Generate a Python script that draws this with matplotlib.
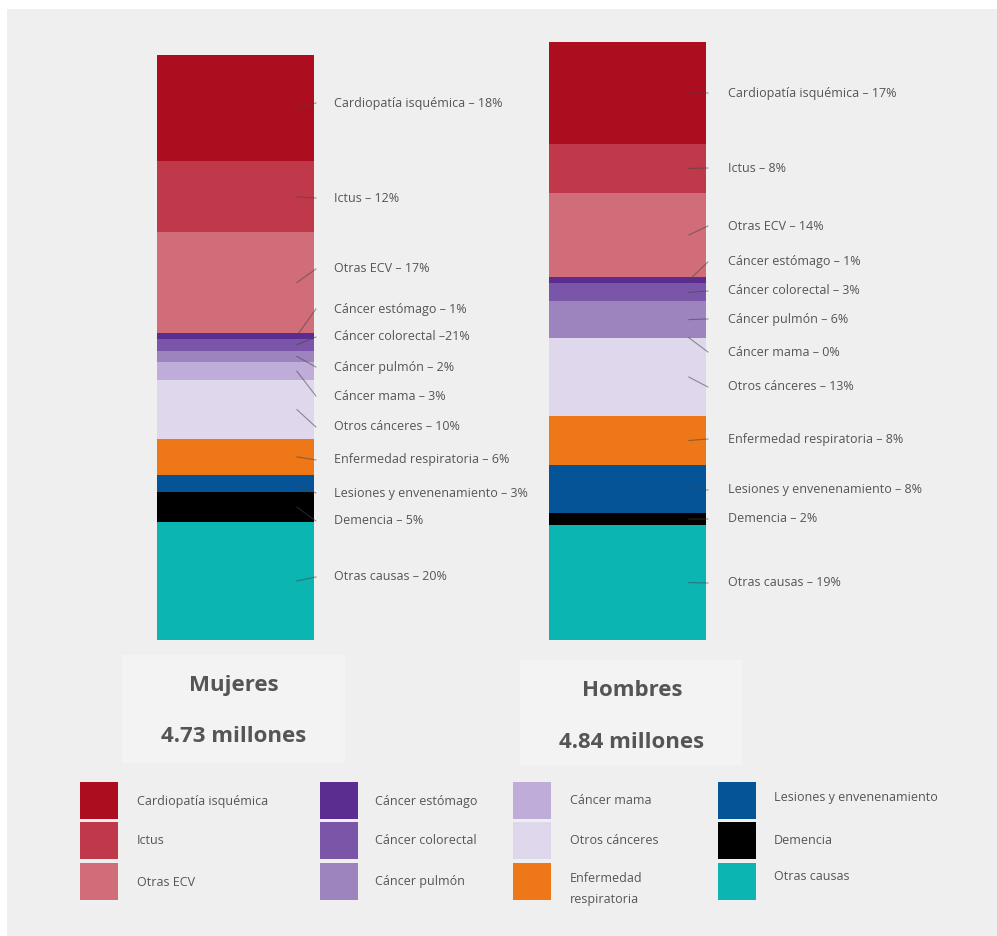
import matplotlib.pyplot as plt
from matplotlib.patches import Rectangle

plt.rcParams['font.family'] = ['Open Sans', 'DejaVu Sans']

# causes of death, share of all deaths (%) for each sex
causes = ["Cardiopatía isquémica", "Ictus", "Otras ECV", "Cáncer estómago",
          "Cáncer colorectal", "Cáncer pulmón", "Cáncer mama", "Otros cánceres",
          "Enfermedad respiratoria", "Lesiones y envenenamiento", "Demencia",
          "Otras causas"]
colors = ["#ad0e1f", "#c0394a", "#d06d78", "#5b2d91", "#7b55a8", "#9d84bf",
          "#c0acd8", "#dfd8ec", "#ee7818", "#045497", "#000000", "#0bb5b1"]

mujeres = [18, 12, 17, 1, 2, 2, 3, 10, 6, 3, 5, 20]
hombres = [17, 8, 14, 1, 3, 6, 0, 13, 8, 8, 2, 19]
total_mujeres = 4.73   # millones de muertes
total_hombres = 4.84

labels_mujeres = ["Cardiopatía isquémica – 18%", "Ictus – 12%", "Otras ECV – 17%",
                  "Cáncer estómago – 1%", "Cáncer colorectal –21%",
                  "Cáncer pulmón – 2%", "Cáncer mama – 3%", "Otros cánceres – 10%",
                  "Enfermedad respiratoria – 6%", "Lesiones y envenenamiento – 3%",
                  "Demencia – 5%", "Otras causas – 20%"]
labels_hombres = ["Cardiopatía isquémica – 17%", "Ictus – 8%", "Otras ECV – 14%",
                  "Cáncer estómago – 1%", "Cáncer colorectal – 3%",
                  "Cáncer pulmón – 6%", "Cáncer mama – 0%", "Otros cánceres – 13%",
                  "Enfermedad respiratoria – 8%", "Lesiones y envenenamiento – 8%",
                  "Demencia – 2%", "Otras causas – 19%"]

# label placement (pixels from top) so the small segments don't collide
label_y_muj = [103, 198, 269, 309, 337, 367, 396, 427, 460, 493, 521, 577]
label_y_hom = [93, 168, 226, 262, 291, 319, 352, 387, 439, 490, 519, 583]

W, H = 997, 936
fig = plt.figure(figsize=(W / 100, H / 100), dpi=100)
fig.patch.set_facecolor("white")
fig.patches.append(Rectangle((7 / W, 0), 1, 1 - 9 / H, transform=fig.transFigure,
                             facecolor="#efefef", edgecolor="none", zorder=0))

# bars: y in millions of deaths, bottom at 640 px from top
px_per_million = 124.9
ax = fig.add_axes([0.3 / W, 296 / H, 980 / W, 4.8 * px_per_million / H])
ax.set_xlim(-0.6, 1.9)
ax.set_ylim(0, 4.8)
ax.axis("off")
ax.set_zorder(1)

ov = fig.add_axes([0, 0, 1, 1])
ov.set_xlim(0, W)
ov.set_ylim(H, 0)
ov.axis("off")
ov.patch.set_alpha(0)
ov.set_zorder(2)

# slightly lighter boxes behind the totals
for x0, y0, w, h in [(122, 655, 223, 108), (520, 660, 222, 105)]:
    ov.add_patch(Rectangle((x0, y0), w, h, facecolor="#f3f3f3", edgecolor="none"))

fig.canvas.draw()


def to_px(x, y):
    dx, dy = ax.transData.transform((x, y))
    return dx, H - dy


def draw_bar(xpos, shares, total, labels, label_y, text_x):
    # stack from the top down: first cause sits on top
    top = sum(shares) / 100 * total
    for share, col, lab, ly in zip(shares, colors, labels, label_y):
        h = share / 100 * total
        bottom = top - h
        ax.bar(xpos, h, bottom=bottom, width=0.4, color=col, edgecolor="none")
        sx, sy = to_px(xpos + 0.2, bottom + h / 2)
        ov.plot([sx - 17, sx + 2], [sy, ly], color="#444444", lw=0.8, alpha=0.55)
        ov.text(text_x, ly, lab, fontsize=9, color="#555555", va="center", ha="left")
        top = bottom


draw_bar(0, mujeres, total_mujeres, labels_mujeres, label_y_muj, 334)
draw_bar(1, hombres, total_hombres, labels_hombres, label_y_hom, 728)

title_kw = dict(fontsize=16, fontweight="bold", color="#555555", ha="center", va="center")
ov.text(234, 686, "Mujeres", **title_kw)
ov.text(234, 737, f"{total_mujeres:.2f} millones", **title_kw)
ov.text(632, 690, "Hombres", **title_kw)
ov.text(632, 743, f"{total_hombres:.2f} millones", **title_kw)

# legend grid, 4 columns x 3 rows
legend_cols = [(80, 137), (320, 375), (513, 570), (718, 774)]
legend_rows = [782, 822, 863]
legend_names = list(causes)
legend_names[8] = "Enfermedad\nrespiratoria"
for i, (name, col) in enumerate(zip(legend_names, colors)):
    c, r = divmod(i, 3)
    sx, tx = legend_cols[c]
    sy = legend_rows[r]
    ov.add_patch(Rectangle((sx, sy), 38, 37, facecolor=col, edgecolor="none"))
    ty = sy + 19
    if i == 8:
        ty = sy + 26
    if i == 11:
        ty = sy + 14
    if i == 9:
        ty = sy + 16
    ov.text(tx, ty, name, fontsize=9, color="#555555", va="center", ha="left",
            linespacing=1.7)

fig.savefig("out.png", dpi=100, facecolor=fig.get_facecolor())
